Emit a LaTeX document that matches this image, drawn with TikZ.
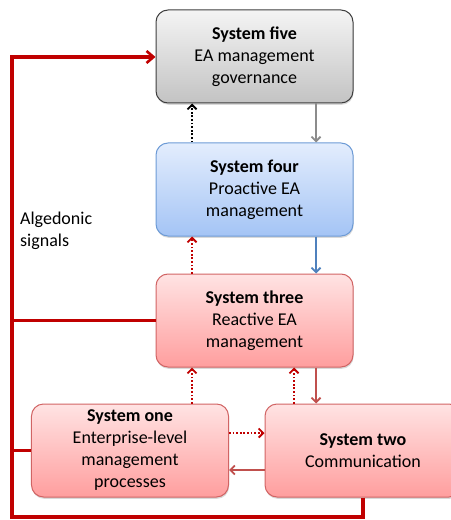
\documentclass[tikz,border=0pt]{standalone}
\usepackage{fontspec}
\setmainfont{Carlito}
\usetikzlibrary{arrows.meta,shadows}

\definecolor{grayTop}{HTML}{F4F4F4}
\definecolor{grayBot}{HTML}{C3C3C3}
\definecolor{grayEdge}{HTML}{3F3F3F}
\definecolor{blueTop}{HTML}{E3EDFD}
\definecolor{blueBot}{HTML}{A4C4F5}
\definecolor{blueEdge}{HTML}{6D9BD6}
\definecolor{pinkTop}{HTML}{FFE3E3}
\definecolor{pinkBot}{HTML}{FF9E9E}
\definecolor{pinkEdge}{HTML}{D16464}
\definecolor{algRed}{HTML}{C00000}
\definecolor{flowGray}{HTML}{8C8C8C}
\definecolor{flowBlue}{HTML}{4F81BD}
\definecolor{flowRed}{HTML}{C0504D}

\tikzset{
  vsmbox/.style={rectangle, rounded corners=12bp, minimum width=197bp,
    minimum height=93bp, align=center, line width=1bp,
    font=\fontsize{18bp}{22bp}\selectfont,
    drop shadow={shadow xshift=0.6bp, shadow yshift=-1.8bp, opacity=0.3}},
  grayfill/.style={vsmbox, draw=grayEdge, top color=grayTop, bottom color=grayBot},
  bluefill/.style={vsmbox, draw=blueEdge, top color=blueTop, bottom color=blueBot},
  pinkfill/.style={vsmbox, draw=pinkEdge, top color=pinkTop, bottom color=pinkBot},
  tip/.style={-{Straight Barb[length=4.5bp,width=9bp,line width=1.8bp]}},
  solidflow/.style={tip, line width=2.4bp},
  dotflow/.style={tip, line width=2.4bp, dash pattern=on 1.8bp off 1.8bp},
  alg/.style={draw=algRed, line width=3.4bp, line join=miter},
}

\begin{document}
\begin{tikzpicture}[x=1bp, y=-1bp]
  \useasboundingbox (0,0) rectangle (451,520);

  % the five subsystems
  \node[grayfill] (five)  at (254.5, 56.5) {\textbf{System five}\\EA management\\governance};
  \node[bluefill] (four)  at (254.5,189.5) {\textbf{System four}\\Proactive EA\\management};
  \node[pinkfill] (three) at (254.5,320.5) {\textbf{System three}\\Reactive EA\\management};
  \node[pinkfill] (one)   at (130,450.5)   {\textbf{System one}\\Enterprise-level\\management\\processes};
  \node[pinkfill, minimum width=196bp] (two) at (363,450.5) {\textbf{System two}\\Communication};

  % columns and rows for the connectors
  \coordinate (colA) at (192,0);
  \coordinate (colB) at (294,0);
  \coordinate (colC) at (316,0);
  \coordinate (rowA) at (0,433);
  \coordinate (rowB) at (0,470);
  \coordinate (busTop) at (12,57);
  \coordinate (busBot) at (12,517);

  % vertical channels
  \draw[dotflow, draw=black] (four.north -| colA) -- (five.south -| colA);
  \draw[solidflow, draw=flowGray] (five.south -| colC) -- (four.north -| colC);
  \draw[dotflow, draw=algRed] (three.north -| colA) -- (four.south -| colA);
  \draw[solidflow, draw=flowBlue] (four.south -| colC) -- (three.north -| colC);
  \draw[dotflow, draw=algRed] (one.north -| colA) -- (three.south -| colA);
  \draw[dotflow, draw=algRed] (two.north -| colB) -- (three.south -| colB);
  \draw[solidflow, draw=flowRed] (three.south -| colC) -- (two.north -| colC);

  % between system one and system two
  \draw[dotflow, draw=algRed] (one.east |- rowA) -- (two.west |- rowA);
  \draw[solidflow, draw=flowRed] (two.west |- rowB) -- (one.east |- rowB);

  % algedonic signal bus
  \draw[alg, -{Straight Barb[length=7bp,width=12bp,line width=2.6bp]}]
    (two.south) |- (busBot) -- (busTop) -- (busTop -| five.west);
  \draw[alg] (three.west) -- (three.west -| busTop);
  \draw[alg] (one.west) -- (one.west -| busTop);

  \node[anchor=north west, align=left, inner sep=0,
        font=\fontsize{18bp}{22bp}\selectfont] (label) at (20,212) {Algedonic\\signals};
\end{tikzpicture}
\end{document}
